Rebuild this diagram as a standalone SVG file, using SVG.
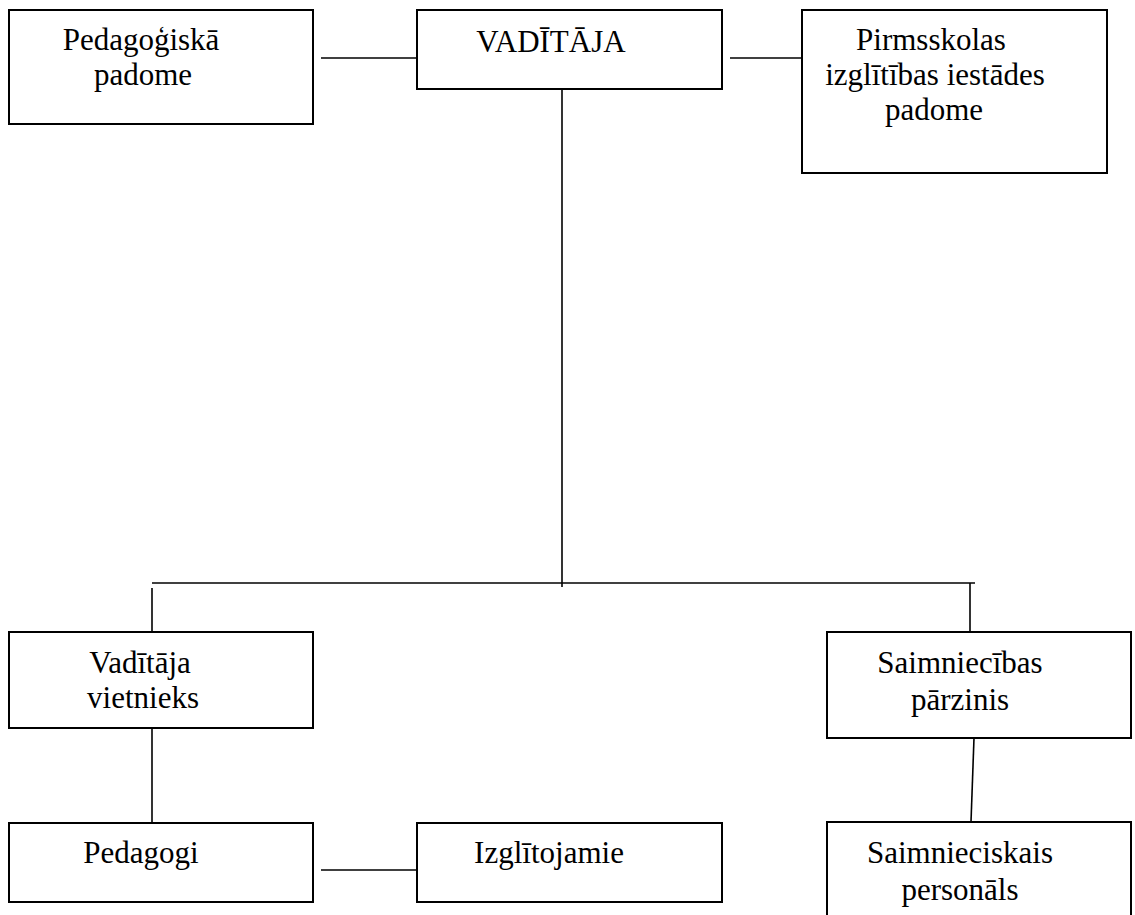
<svg xmlns="http://www.w3.org/2000/svg" width="1135" height="915" viewBox="0 0 1135 915">
<style>
.box{fill:#fff;stroke:#000;stroke-width:2}
.ln{stroke:#000;stroke-width:1.6;fill:none}
.t{font-family:'Liberation Serif','DejaVu Serif',serif;font-size:31px;fill:#000;text-anchor:middle}
</style>
<rect width="1135" height="915" fill="#fff"/>
<g id="connectors">
<line class="ln" x1="321" y1="58" x2="417" y2="58"/>
<line class="ln" x1="730" y1="58" x2="802" y2="58"/>
<line class="ln" x1="562" y1="89" x2="562" y2="587"/>
<line class="ln" x1="152" y1="583" x2="975" y2="583"/>
<line class="ln" x1="152" y1="588" x2="152" y2="636"/>
<line class="ln" x1="970" y1="583" x2="970" y2="632"/>
<line class="ln" x1="152" y1="728" x2="152" y2="827"/>
<line class="ln" x1="321" y1="870" x2="417" y2="870"/>
<line class="ln" x1="974" y1="738" x2="971" y2="822"/>
</g>
<g id="pedagogiska-padome">
<rect class="box" x="9" y="10" width="304" height="114"/>
<text class="t" font-family="Liberation Serif, serif" x="141" y="50">Pedagoģiskā</text>
<text class="t" font-family="Liberation Serif, serif" x="143" y="85">padome</text>
</g>
<g id="vaditaja">
<rect class="box" x="417" y="10" width="305" height="79"/>
<text class="t" font-family="Liberation Serif, serif" x="551" y="52">VADĪTĀJA</text>
</g>
<g id="pirmsskolas-padome">
<rect class="box" x="802" y="10" width="305" height="163"/>
<text class="t" font-family="Liberation Serif, serif" x="931" y="50">Pirmsskolas</text>
<text class="t" font-family="Liberation Serif, serif" x="935" y="85">izglītības iestādes</text>
<text class="t" font-family="Liberation Serif, serif" x="934" y="120">padome</text>
</g>
<g id="vaditaja-vietnieks">
<rect class="box" x="9" y="632" width="304" height="96"/>
<text class="t" font-family="Liberation Serif, serif" x="140" y="673">Vadītāja</text>
<text class="t" font-family="Liberation Serif, serif" x="143" y="708">vietnieks</text>
</g>
<g id="saimniecibas-parzinis">
<rect class="box" x="827" y="632" width="304" height="106"/>
<text class="t" font-family="Liberation Serif, serif" x="960" y="673">Saimniecības</text>
<text class="t" font-family="Liberation Serif, serif" x="960" y="710">pārzinis</text>
</g>
<g id="pedagogi">
<rect class="box" x="9" y="823" width="304" height="79"/>
<text class="t" font-family="Liberation Serif, serif" x="141" y="863">Pedagogi</text>
</g>
<g id="izglitojamie">
<rect class="box" x="417" y="823" width="305" height="79"/>
<text class="t" font-family="Liberation Serif, serif" x="549" y="863">Izglītojamie</text>
</g>
<g id="saimnieciskais-personals">
<rect class="box" x="827" y="822" width="304" height="110"/>
<text class="t" font-family="Liberation Serif, serif" x="960" y="863">Saimnieciskais</text>
<text class="t" font-family="Liberation Serif, serif" x="960" y="900">personāls</text>
</g>
</svg>
